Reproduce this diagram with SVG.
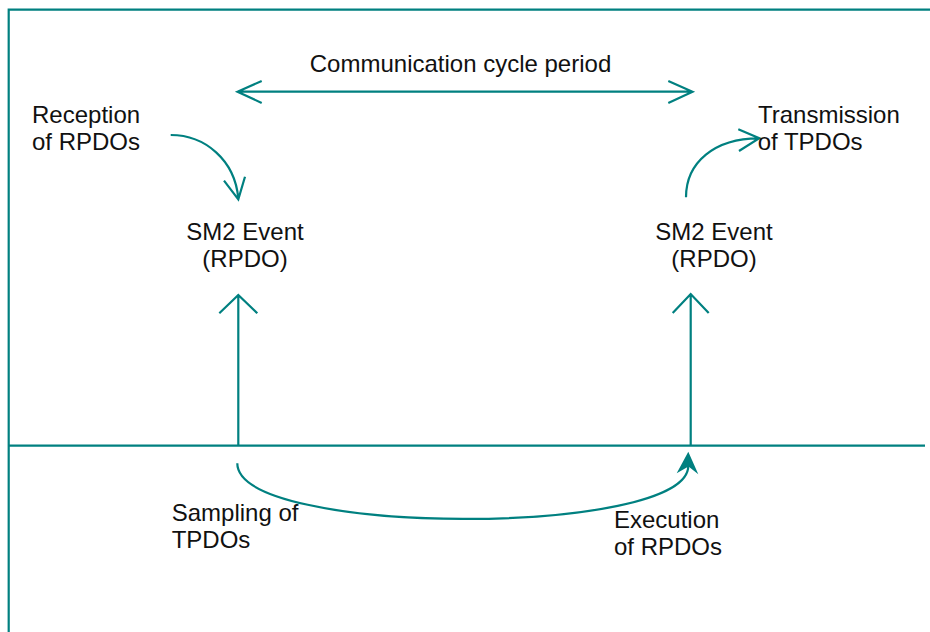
<svg xmlns="http://www.w3.org/2000/svg" width="930" height="632" viewBox="0 0 930 632">
<style>
.ln{fill:none;stroke:#008080;stroke-width:2.2;stroke-linecap:butt;stroke-linejoin:miter}
.fr{fill:none;stroke:#008080;stroke-width:2.2}
.ah{fill:#008080;stroke:none}
text{font-family:"Liberation Sans",Arial,Helvetica,sans-serif;font-size:24px;fill:#111}
.c{text-anchor:middle}
</style>
<rect width="930" height="632" fill="#fff"/>
<g id="frame">
<path class="fr" d="M8.7,632 V9.7 H930"/>
<path class="fr" d="M9,445.7 H925" stroke-width="2.4"/>
</g>
<g id="connectors">
<path id="cycle-period" class="ln" d="M237.5,91.7 H692.5 M261.7,81 L237.5,91.7 L261.7,103 M668.3,81 L692.5,91.7 L668.3,103"/>
<path id="left-up" class="ln" d="M238.3,446 V295.5 M219.3,313.3 L238.3,295 L257.3,313.3"/>
<path id="right-up" class="ln" d="M690.7,446 V294.5 M672.7,313 L690.7,294 L708.7,313"/>
<path id="reception" class="ln" d="M170.7,135 C205,135 235,160 238.3,198.5 M224,180.7 L238.3,199.3 L245,176.7"/>
<path id="transmission" class="ln" d="M686,197.3 C686,162 715,138.3 758.5,138.3 M738.3,129.3 L759.3,138.3 L739,151"/>
<path id="cycle-curve" class="ln" d="M237.3,463.3 C237.3,537 688,537 688.3,466"/>
<polygon class="ah" points="688.3,451.7 676.7,473.3 688.5,466.5 698.3,474.3"/>
</g>
<g id="label-cycle"><text class="c" x="460.5" y="72">Communication cycle period</text></g>
<g id="node-reception"><text x="32" y="123">Reception</text><text x="32" y="150">of RPDOs</text></g>
<g id="node-transmission"><text x="758" y="123">Transmission</text><text x="757.7" y="150">of TPDOs</text></g>
<g id="node-sm2-left"><text class="c" x="245" y="240">SM2 Event</text><text class="c" x="245" y="267">(RPDO)</text></g>
<g id="node-sm2-right"><text class="c" x="714" y="240">SM2 Event</text><text class="c" x="714" y="267">(RPDO)</text></g>
<g id="node-sampling"><text x="171.7" y="521">Sampling of</text><text x="171.7" y="548">TPDOs</text></g>
<g id="node-execution"><text x="614" y="528">Execution</text><text x="614" y="555">of RPDOs</text></g>
</svg>
